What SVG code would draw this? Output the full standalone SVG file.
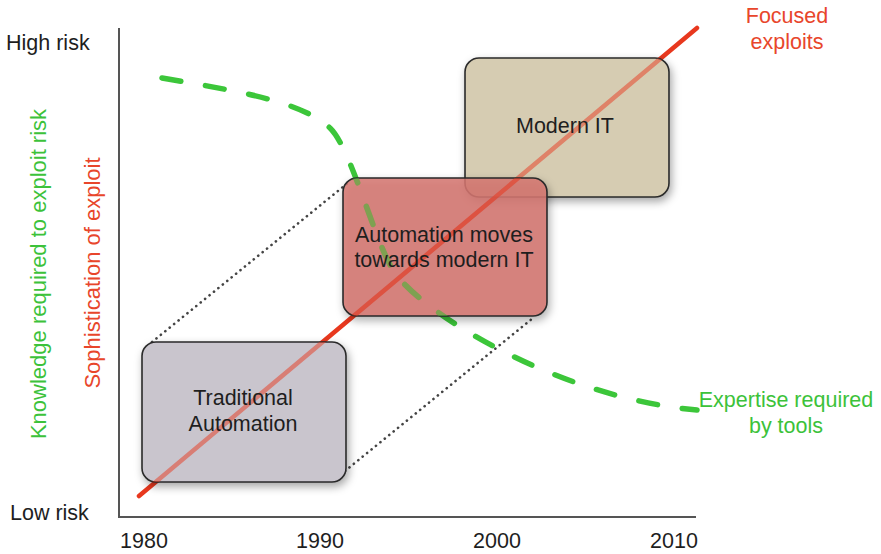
<svg xmlns="http://www.w3.org/2000/svg" xmlns:xlink="http://www.w3.org/1999/xlink" width="881" height="554" viewBox="0 0 881 554">
  <style>
    .t { font-family: "Liberation Sans", Arial, sans-serif; font-size: 21.5px; fill: #1e1e1e; }
    .mid { text-anchor: middle; }
    .red { fill: #e8462b; }
    .green { fill: #3cc23a; }
    .axis { stroke: #555; stroke-width: 2; fill: none; }
    .redline { stroke: #e8381e; stroke-width: 4.5; stroke-linecap: round; fill: none; }
    .greenline { stroke: #3cc63a; stroke-width: 5.5; stroke-linecap: round; stroke-dasharray: 19 25; fill: none; }
    .dots { stroke: #444; stroke-width: 2.6; stroke-linecap: round; stroke-dasharray: 0.1 5.6; fill: none; }
    .box { stroke: #2a2a2a; stroke-width: 1.6; }
    .overlay { opacity: 0.5; }
  </style>
  <defs>
    <filter id="shadow" x="-20%" y="-20%" width="140%" height="150%">
      <feDropShadow dx="2" dy="4" stdDeviation="4" flood-color="#000" flood-opacity="0.35"/>
    </filter>
    <path id="redPath" d="M139,496 L697,28"/>
    <path id="greenPath" d="M162,78 C230,90 300,100 330,128 C352,149 375,245 395,273 C425,315 560,398 697,410"/>
    <clipPath id="clipTrad"><rect x="142" y="342" width="204" height="140" rx="14"/></clipPath>
    <clipPath id="clipAuto"><rect x="343" y="178" width="204" height="138" rx="14"/></clipPath>
    <clipPath id="clipMod"><rect x="465" y="58" width="204" height="139" rx="14"/></clipPath>
  </defs>

  <rect width="881" height="554" fill="#ffffff"/>

  <g id="axes">
    <path class="axis" d="M119,28 L119,517 L696,517"/>
    <text class="t" x="6" y="50">High risk</text>
    <text class="t" x="10" y="520">Low risk</text>
    <text class="t mid" x="144" y="548">1980</text>
    <text class="t mid" x="320" y="548">1990</text>
    <text class="t mid" x="497" y="548">2000</text>
    <text class="t mid" x="674" y="548">2010</text>
    <text class="t mid green" style="font-size:22px" transform="translate(46,274) rotate(-90)">Knowledge required to exploit risk</text>
    <text class="t mid red" style="font-size:22px" transform="translate(100,273) rotate(-90)">Sophistication of exploit</text>
  </g>

  <g id="connectors">
    <line class="dots" x1="152" y1="342" x2="349" y2="182"/>
    <line class="dots" x1="345" y1="471" x2="533" y2="318"/>
    <use class="redline" xlink:href="#redPath"/>
    <use class="greenline" xlink:href="#greenPath"/>
  </g>

  <g id="traditional-automation">
    <rect class="box" x="142" y="342" width="204" height="140" rx="14" fill="#c9c5cd" filter="url(#shadow)"/>
    <g clip-path="url(#clipTrad)" class="overlay">
      <use class="redline" xlink:href="#redPath"/>
      <use class="greenline" xlink:href="#greenPath"/>
    </g>
    <text class="t mid" x="243" y="405">Traditional</text>
    <text class="t mid" x="243" y="431">Automation</text>
  </g>

  <g id="modern-it">
    <rect class="box" x="465" y="58" width="204" height="139" rx="14" fill="#d6ccb2" filter="url(#shadow)"/>
    <g clip-path="url(#clipMod)" class="overlay">
      <use class="redline" xlink:href="#redPath"/>
    </g>
    <text class="t mid" x="565" y="133">Modern IT</text>
  </g>

  <g id="automation-moves">
    <rect class="box" x="343" y="178" width="204" height="138" rx="14" fill="#d57670" fill-opacity="0.85" filter="url(#shadow)"/>
    <g clip-path="url(#clipAuto)" class="overlay">
      <use class="redline" xlink:href="#redPath"/>
      <use class="greenline" xlink:href="#greenPath"/>
    </g>
    <text class="t mid" x="444" y="242">Automation moves</text>
    <text class="t mid" x="444" y="267">towards modern IT</text>
  </g>

  <g id="labels">
    <text class="t mid red" x="787" y="23">Focused</text>
    <text class="t mid red" x="787" y="49">exploits</text>
    <text class="t mid green" x="786" y="407">Expertise required</text>
    <text class="t mid green" x="786" y="433">by tools</text>
  </g>
</svg>
